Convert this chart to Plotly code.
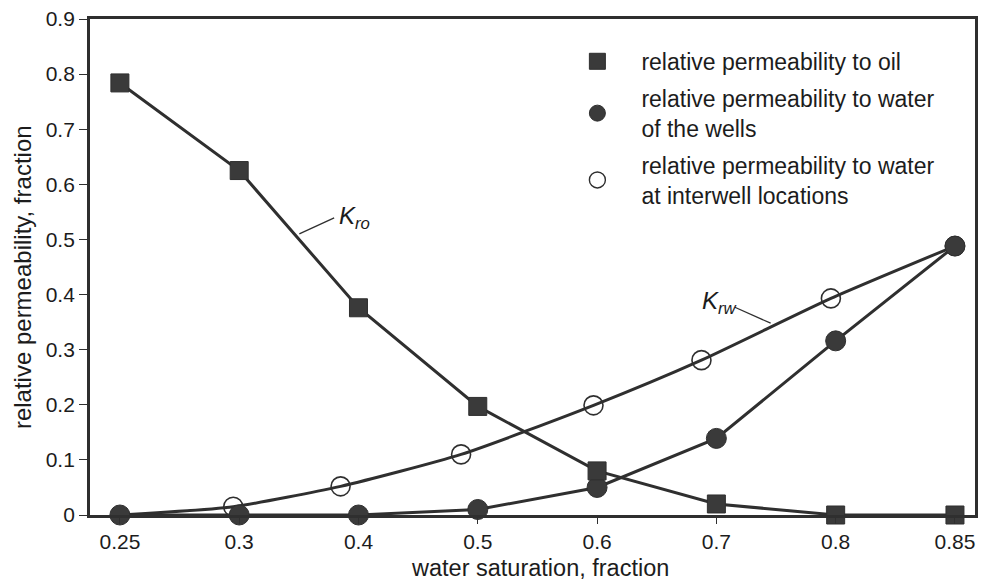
import numpy as np
import plotly.graph_objects as go

# Water-saturation values shown on the x axis (drawn evenly spaced)
SW_TICKS = [0.25, 0.3, 0.4, 0.5, 0.6, 0.7, 0.8, 0.85]
SW_LABELS = ["0.25", "0.3", "0.4", "0.5", "0.6", "0.7", "0.8", "0.85"]

# Relative permeability to oil (squares)
sw_oil = [0.25, 0.3, 0.4, 0.5, 0.6, 0.7, 0.8, 0.85]
kro = [0.784, 0.625, 0.376, 0.197, 0.080, 0.020, 0.0, 0.0]

# Relative permeability to water measured at the wells (filled circles)
sw_wells = [0.25, 0.3, 0.4, 0.5, 0.6, 0.7, 0.8, 0.85]
krw_wells = [0.0, 0.0, 0.0, 0.010, 0.050, 0.139, 0.316, 0.488]

# Relative permeability to water at interwell locations (open circles)
sw_inter = [0.25, 0.2975, 0.385, 0.486, 0.597, 0.6875, 0.796, 0.85]
krw_inter = [0.0, 0.015, 0.052, 0.110, 0.199, 0.281, 0.393, 0.488]

Y_TICKS = [0, 0.1, 0.2, 0.3, 0.4, 0.5, 0.6, 0.7, 0.8, 0.9]
Y_LABELS = ["0", "0.1", "0.2", "0.3", "0.4", "0.5", "0.6", "0.7", "0.8", "0.9"]

LEGEND_NAMES = [
    "relative permeability to oil",
    "relative permeability to water<br>of the wells",
    "relative permeability to water<br>at interwell locations",
]

FONT = "Liberation Sans, Arial, Helvetica, sans-serif"
INK = "#2f2f2f"
FILL = "#3a3a3a"
TEXT = "#1c1c1c"


def sw_pos(values):
    """Place saturations on the evenly spaced tick grid."""
    return np.interp(values, SW_TICKS, np.arange(len(SW_TICKS)))


fig = go.Figure()

fig.add_trace(go.Scatter(
    x=sw_pos(sw_inter), y=krw_inter, mode="lines+markers",
    line=dict(color=INK, width=3, shape="spline", smoothing=0.6),
    marker=dict(symbol="circle", size=[0] + [19] * (len(sw_inter) - 1), opacity=1,
                color="rgba(0,0,0,0)", line=dict(color=INK, width=1.6)),
    cliponaxis=False, showlegend=False, name=LEGEND_NAMES[2],
))
fig.add_trace(go.Scatter(
    x=sw_pos(sw_wells), y=krw_wells, mode="lines+markers",
    line=dict(color=INK, width=3),
    marker=dict(symbol="circle", size=20, color=FILL, line=dict(color=INK, width=1)),
    cliponaxis=False, showlegend=False, name=LEGEND_NAMES[1],
))
fig.add_trace(go.Scatter(
    x=sw_pos(sw_oil), y=kro, mode="lines+markers",
    line=dict(color=INK, width=3),
    marker=dict(symbol="square", size=18, color=FILL, line=dict(color=INK, width=1)),
    cliponaxis=False, showlegend=False, name=LEGEND_NAMES[0],
))

# Legend entries (markers only)
legend_markers = [
    dict(symbol="square", size=20, color=FILL, line=dict(color=INK, width=1)),
    dict(symbol="circle", size=20, color=FILL, line=dict(color=INK, width=1)),
    dict(symbol="circle", size=20, color="white", line=dict(color=INK, width=1.4)),
]
for i, (name, mk) in enumerate(zip(LEGEND_NAMES, legend_markers)):
    fig.add_trace(go.Scatter(
        x=[None], y=[None], mode="markers", marker=mk, name=name,
        legendgroup=f"g{i}", showlegend=True,
    ))

# Curve labels with leader lines
fig.add_annotation(x=1.821, y=0.539, xref="x", yref="y", xanchor="left", yanchor="middle",
                   text="<i>K<sub>ro</sub></i>", showarrow=False,
                   font=dict(family=FONT, size=24, color=TEXT))
fig.add_shape(type="line", xref="x", yref="y", x0=1.504, y0=0.510, x1=1.796, y1=0.539,
              line=dict(color=INK, width=1.3))
fig.add_annotation(x=4.862, y=0.385, xref="x", yref="y", xanchor="left", yanchor="middle",
                   text="<i>K<sub>rw</sub></i>", showarrow=False,
                   font=dict(family=FONT, size=24, color=TEXT))
fig.add_shape(type="line", xref="x", yref="y", x0=5.155, y0=0.377, x1=5.455, y1=0.348,
              line=dict(color=INK, width=1.3))

# Axis titles
fig.add_annotation(x=0.508, y=-0.107, xref="paper", yref="paper", xanchor="center",
                   yanchor="middle", text="water saturation, fraction", showarrow=False,
                   font=dict(family=FONT, size=23.5, color=TEXT))
fig.add_annotation(x=-0.0755, y=0.48, xref="paper", yref="paper", xanchor="center",
                   yanchor="middle", text="relative permeability, fraction", textangle=-90,
                   showarrow=False, font=dict(family=FONT, size=24, color=TEXT))

fig.update_xaxes(
    range=[-0.2506, 7.168], tickmode="array", tickvals=list(range(len(SW_TICKS))),
    ticktext=SW_LABELS, ticks="outside", ticklen=6, tickwidth=1.2, tickcolor=INK,
    showline=True, linecolor=INK, linewidth=2.8, mirror=True,
    showgrid=False, zeroline=False,
    tickfont=dict(family=FONT, size=21, color=TEXT),
)
fig.update_yaxes(
    range=[0, 0.9], tickmode="array", tickvals=Y_TICKS, ticktext=Y_LABELS,
    ticks="outside", ticklen=8, tickwidth=1.4, tickcolor=INK,
    showline=True, linecolor=INK, linewidth=2.8, mirror=True,
    showgrid=False, zeroline=False,
    tickfont=dict(family=FONT, size=21, color=TEXT),
)

fig.update_layout(
    width=981, height=580,
    margin=dict(l=90, r=3, t=19, b=65),
    paper_bgcolor="white", plot_bgcolor="white",
    font=dict(family=FONT, size=20, color=TEXT),
    legend=dict(
        x=0.5236, y=0.958, xanchor="left", yanchor="top",
        bgcolor="rgba(0,0,0,0)", borderwidth=0,
        font=dict(family=FONT, size=23, color=TEXT),
        itemwidth=78, traceorder="grouped", tracegroupgap=4,
    ),
)

fig.write_html("out.html")
